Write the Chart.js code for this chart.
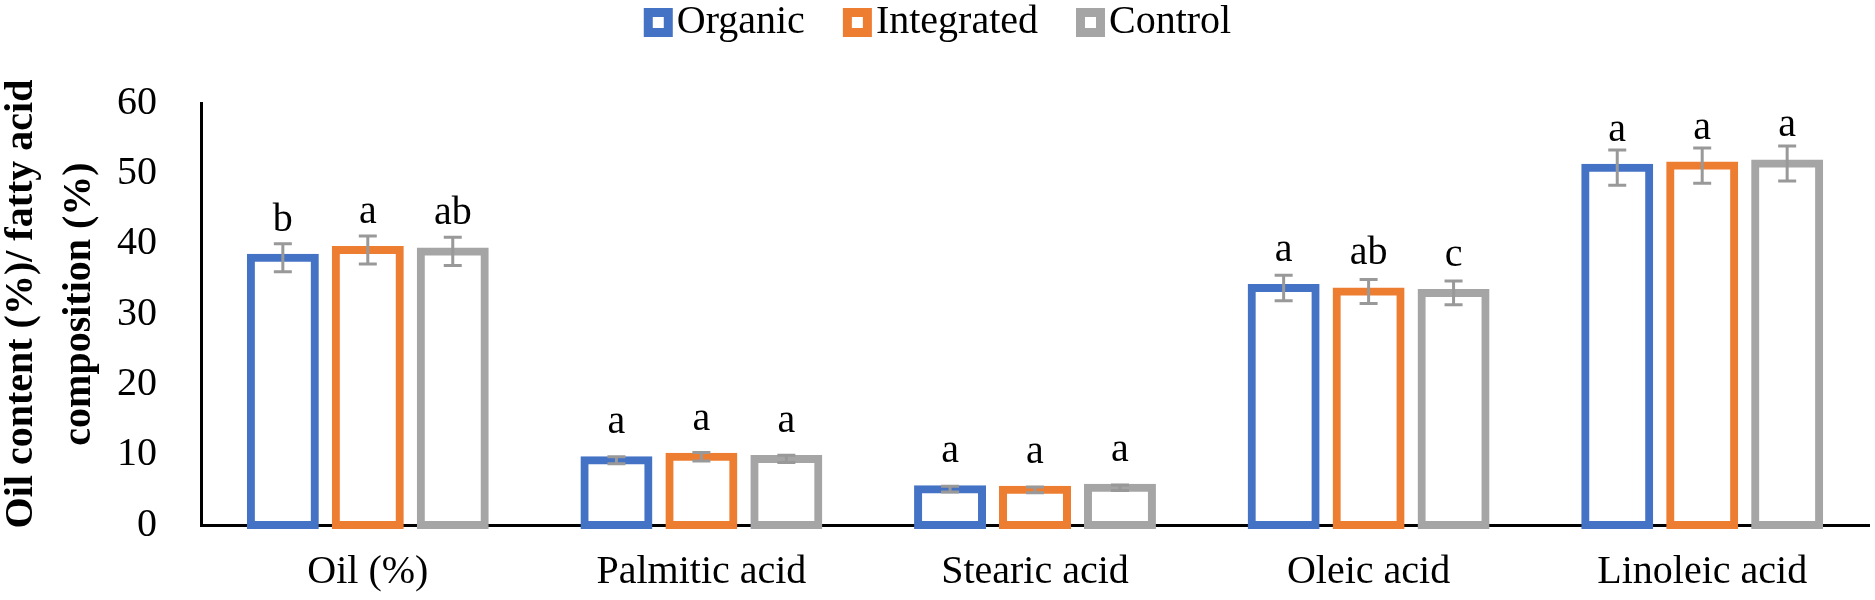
<!DOCTYPE html>
<html>
<head>
<meta charset="utf-8">
<script src="https://cdn.jsdelivr.net/npm/chart.js@4.4.0/dist/chart.umd.min.js"></script>
<style>
  html, body { margin: 0; padding: 0; background: #fff; }
  #wrap { width: 1875px; height: 600px; }
</style>
</head>
<body>
<div id="wrap"><canvas id="myChart"></canvas></div>
<script>
let groups = ["Oil (%)", "Palmitic acid", "Stearic acid", "Oleic acid", "Linoleic acid"];

let organic = [38.0, 9.2, 5.1, 33.7, 50.8];
let integrated = [39.1, 9.7, 5.0, 33.2, 51.1];
let control = [38.9, 9.4, 5.3, 33.0, 51.4];

let organicErr = [2.0, 0.5, 0.4, 1.8, 2.5];
let integratedErr = [2.0, 0.6, 0.4, 1.7, 2.5];
let controlErr = [2.0, 0.5, 0.4, 1.7, 2.5];

let organicLetters = ["b", "a", "a", "a", "a"];
let integratedLetters = ["a", "a", "a", "ab", "a"];
let controlLetters = ["ab", "a", "a", "c", "a"];

let yTicks = [0, 10, 20, 30, 40, 50, 60];

const serif = '"Liberation Serif", "Times New Roman", serif';

// error bars + significance letters on top of each bar
const errorBars = {
  id: 'errorBars',
  afterDatasetsDraw(chart) {
    const ctx = chart.ctx;
    const y = chart.scales.y;
    chart.data.datasets.forEach((ds, i) => {
      chart.getDatasetMeta(i).data.forEach((bar, j) => {
        const v = ds.data[j];
        const e = ds.errors[j];
        const top = y.getPixelForValue(v + e);
        const bot = y.getPixelForValue(v - e);
        ctx.save();
        ctx.strokeStyle = '#999999';
        ctx.lineWidth = 3;
        ctx.beginPath();
        ctx.moveTo(bar.x, top); ctx.lineTo(bar.x, bot);
        ctx.moveTo(bar.x - 9, top); ctx.lineTo(bar.x + 9, top);
        ctx.moveTo(bar.x - 9, bot); ctx.lineTo(bar.x + 9, bot);
        ctx.stroke();
        ctx.fillStyle = '#000';
        ctx.font = '40px ' + serif;
        ctx.textAlign = 'center';
        ctx.textBaseline = 'alphabetic';
        ctx.fillText(ds.letters[j], bar.x, y.getPixelForValue(v) - 27);
        ctx.restore();
      });
    });
  }
};

// legend like excel: thick square + text
const legendBoxes = {
  id: 'legendBoxes',
  afterDraw(chart) {
    const ctx = chart.ctx;
    const sets = chart.data.datasets;
    ctx.save();
    ctx.font = '40px ' + serif;
    const widths = sets.map(ds => 33 + ctx.measureText(ds.label).width);
    const total = widths.reduce((a, b) => a + b, 0) + 38 * (sets.length - 1);
    let x = chart.width / 2 - total / 2;
    sets.forEach((ds, i) => {
      ctx.fillStyle = ds.borderColor;
      ctx.fillRect(x, 8, 29, 29);
      ctx.fillStyle = '#fff';
      ctx.fillRect(x + 9, 17, 11, 11);
      ctx.fillStyle = '#000';
      ctx.textAlign = 'left';
      ctx.textBaseline = 'middle';
      ctx.fillText(ds.label, x + 33, 22);
      x += widths[i] + 38;
    });
    ctx.restore();
  }
};

function barSet(label, data, errors, letters, color) {
  return {
    label: label,
    data: data,
    errors: errors,
    letters: letters,
    borderColor: color,
    backgroundColor: '#ffffff',
    borderWidth: 8,
    borderSkipped: false,
    inflateAmount: 4,
    clip: false,
    categoryPercentage: 0.764,
    barPercentage: 0.753
  };
}

const ctx = document.getElementById('myChart');
new Chart(ctx, {
  type: 'bar',
  data: {
    labels: groups,
    datasets: [
      barSet('Organic', organic, organicErr, organicLetters, '#4472C4'),
      barSet('Integrated', integrated, integratedErr, integratedLetters, '#ED7D31'),
      barSet('Control', control, controlErr, controlLetters, '#A5A5A5')
    ]
  },
  options: {
    responsive: true,
    maintainAspectRatio: false,
    animation: false,
    devicePixelRatio: 1,
    layout: { padding: { top: 103, right: 6, left: 0, bottom: 0 } },
    plugins: {
      legend: { display: false },
      tooltip: { enabled: false }
    },
    scales: {
      x: {
        z: 1,
        grid: { display: false },
        border: { display: true, color: '#000', width: 3 },
        ticks: { color: '#000', font: { family: serif, size: 40 }, padding: 15, maxRotation: 0 },
        afterFit(scale) { scale.height = 75; }
      },
      y: {
        min: yTicks[0],
        max: yTicks[yTicks.length - 1],
        grid: { display: false },
        border: { display: true, color: '#000', width: 3 },
        ticks: { stepSize: yTicks[1] - yTicks[0], color: '#000', font: { family: serif, size: 40 }, padding: 36 },
        title: {
          display: true,
          // leading spaces nudge the rotated title up a little
          text: ['  Oil content (%)/ fatty acid', '  composition (%)'],
          color: '#000',
          font: { family: serif, size: 40, weight: 'bold', lineHeight: 1.45 },
          padding: { top: -7, bottom: 0 }
        },
        afterFit(scale) { scale.width = 201; }
      }
    }
  },
  plugins: [errorBars, legendBoxes]
});
</script>
</body>
</html>
